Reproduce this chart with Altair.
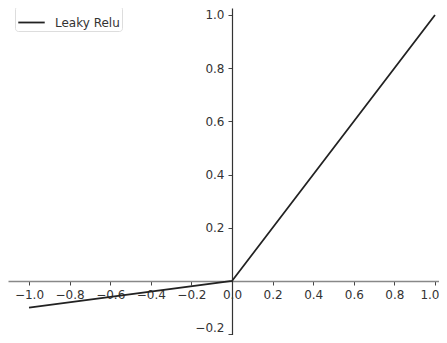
import altair as alt
import pandas as pd

xs = [-1.0, 0.0, 1.0]
ys = [-0.1, 0.0, 1.0]
series = ["Leaky Relu"] * 3
x_ticks = [-1.0, -0.8, -0.6, -0.4, -0.2, 0.0, 0.2, 0.4, 0.6, 0.8, 1.0]
y_ticks = [-0.2, 0.2, 0.4, 0.6, 0.8, 1.0]

df = pd.DataFrame({"x": xs, "y": ys, "s": series})

W, H = 431, 327
xdom = [-1.1034, 1.0197]
ydom = [-0.203, 1.0263]
# pixel offsets of the zero lines
x0_px = (0 - xdom[0]) / (xdom[1] - xdom[0]) * W
y0_px = (0 - ydom[0]) / (ydom[1] - ydom[0]) * H

chart = alt.Chart(df).mark_line(strokeWidth=1.8, color="#222222").encode(
    x=alt.X("x:Q", scale=alt.Scale(domain=xdom, nice=False, zero=False),
            axis=alt.Axis(values=x_ticks, format=".1f", title=None, grid=False,
                          offset=-y0_px, domainColor="#888888", domainWidth=1.6,
                          tickColor="#444444", tickSize=4, labelPadding=4,
                          labelFlush=6, labelFlushOffset=4,
                          labelFontSize=12, labelColor="#333333", labelFont="DejaVu Sans")),
    y=alt.Y("y:Q", scale=alt.Scale(domain=ydom, nice=False, zero=False),
            axis=alt.Axis(values=y_ticks, format=".1f", title=None, grid=False,
                          offset=-x0_px, domainColor="#333333", domainWidth=1.2,
                          tickColor="#444444", tickSize=4, labelPadding=4,
                          labelBaseline={"expr": "datum.value < 0 ? 'bottom' : 'middle'"},
                          labelFontSize=12, labelColor="#333333", labelFont="DejaVu Sans")),
    color=alt.Color("s:N", scale=alt.Scale(range=["#222222"]),
                    legend=alt.Legend(title=None, orient="none", legendX=7, legendY=-2,
                                      symbolType="stroke", symbolStrokeWidth=1.8, symbolSize=700,
                                      labelFontSize=12, labelFont="DejaVu Sans", labelColor="#333333",
                                      labelOffset=9,
                                      fillColor="white", strokeColor="#dddddd", padding=2,
                                      cornerRadius=3)),
).properties(width=W, height=H, autosize=alt.AutoSizeParams(type="none"), padding=0
).configure_view(stroke=None).configure_axis(zindex=0)

chart.save("out.html", embed_options={"renderer": "svg", "actions": False})
